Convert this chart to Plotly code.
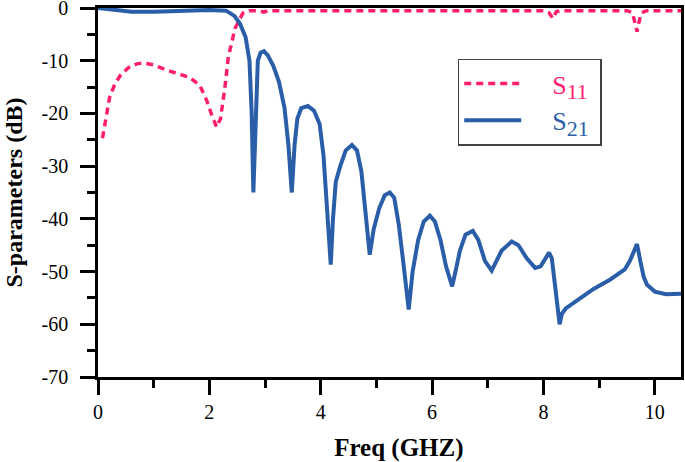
import plotly.graph_objects as go

# S21 (solid blue)
s21_freq = [0.0, 0.3, 0.6, 1.0, 1.5, 2.0, 2.3, 2.45, 2.55, 2.65, 2.72, 2.76, 2.79, 2.83, 2.87, 2.92, 2.98,
            3.05, 3.15, 3.25, 3.35, 3.42, 3.48, 3.53, 3.58, 3.65, 3.77, 3.88, 3.98, 4.05, 4.12, 4.18,
            4.22, 4.27, 4.35, 4.45, 4.56, 4.65, 4.73, 4.8, 4.88, 4.95, 5.05, 5.15, 5.24, 5.32, 5.4,
            5.48, 5.58, 5.65, 5.75, 5.85, 5.96, 6.05, 6.15, 6.25, 6.36, 6.42, 6.5, 6.6, 6.73, 6.83,
            6.95, 7.07, 7.15, 7.25, 7.43, 7.55, 7.7, 7.85, 7.95, 8.05, 8.1, 8.15, 8.2, 8.25, 8.29,
            8.33, 8.4, 8.6, 8.9, 9.2, 9.46, 9.55, 9.68, 9.74, 9.8, 9.86, 10.0, 10.2, 10.47]
s21_db = [0.0, -0.4, -0.7, -0.7, -0.5, -0.4, -0.5, -1.5, -3, -5.5, -10, -20, -35, -20, -10, -8.5, -8.2,
          -9, -11, -14, -19, -26, -35, -26, -21, -19, -18.6, -19.5, -22, -28, -38, -48.7,
          -40, -33, -30, -27, -26, -27, -31, -38, -46.8, -42, -38, -35.5, -35, -36, -41,
          -48, -57.2, -50, -44, -40.5, -39.4, -40.5, -44, -49, -52.8, -50, -46, -43, -42.3, -44,
          -48, -49.8, -48, -46, -44.3, -45, -47.5, -49.3, -49, -47, -46.4, -47.5, -52, -58, -60,
          -58, -57, -55.5, -53.3, -51.5, -49.6, -48, -44.8, -48, -51, -52.5, -53.8, -54.3, -54.2]

# S11 (dashed pink)
s11_freq = [0.08, 0.15, 0.21, 0.3, 0.4, 0.55, 0.7, 0.81, 1.0, 1.24, 1.45, 1.65, 1.83, 1.95, 2.05, 2.13,
            2.2, 2.28, 2.34, 2.46, 2.6, 2.73, 2.9, 2.98, 3.05, 4.0, 5.0, 6.0, 7.0, 8.0, 8.1, 8.17,
            8.23, 8.3, 9.5, 9.6, 9.68, 9.75, 9.85, 10.47]
s11_db = [-24.7, -20, -16.9, -14.5, -12.8, -11.3, -10.6, -10.4, -10.8, -11.8, -12.5, -13.2, -14.7, -17.5,
          -20.5, -22.6, -21, -15, -9.3, -3.9, -1, -0.5, -0.5, -0.8, -0.5, -0.5, -0.5, -0.5, -0.5, -0.5,
          -0.9, -2, -0.7, -0.5, -0.5, -0.9, -4.5, -1, -0.5, -0.5]

x_ticks = [0, 2, 4, 6, 8, 10]
y_ticks = [0, -10, -20, -30, -40, -50, -60, -70]

PINK = "#ff1f6e"
BLUE = "#2b5ea8"
FONT = "Liberation Serif"
PAD = "&nbsp;" * 4


def legend_label(color, sub):
    return (f"{PAD}<span style='color:{color}'>S<sub><span style='font-size:22px'>{sub}</span></sub></span>"
            "&nbsp;")


fig = go.Figure()
fig.add_trace(go.Scatter(x=s11_freq, y=s11_db, mode="lines",
                         name=legend_label(PINK, "11"),
                         line=dict(color=PINK, width=3.5, dash="7px,5px")))
fig.add_trace(go.Scatter(x=s21_freq, y=s21_db, mode="lines",
                         name=legend_label(BLUE, "21"),
                         line=dict(color=BLUE, width=4)))

axis_common = dict(
    ticks="outside", ticklen=15, tickwidth=2.5, tickcolor="black",
    showline=True, linecolor="black", linewidth=2.5, mirror=True,
    showgrid=False, zeroline=False, automargin=False,
    tickfont=dict(family=FONT, size=20, color="black"),
    ticklabeloverflow="allow",
)

fig.update_layout(
    width=685, height=462,
    margin=dict(l=98, r=4, t=8, b=85),
    paper_bgcolor="white", plot_bgcolor="white",
    font=dict(family=FONT, size=20, color="black"),
    showlegend=True,
    legend=dict(x=0.617, y=0.863, xanchor="left", yanchor="top",
                bordercolor="#444", borderwidth=1.5, bgcolor="white",
                itemwidth=57,
                font=dict(family=FONT, size=26), tracegroupgap=0),
    xaxis=dict(range=[0, 10.47], tickvals=x_ticks, ticktext=[str(v) for v in x_ticks],
               minor=dict(tickvals=[1, 3, 5, 7, 9], ticks="outside", ticklen=8, tickwidth=2.5, tickcolor="black"),
               title=dict(text="&nbsp;&nbsp;&nbsp;<b>Freq (GHZ)</b>", font=dict(family=FONT, size=25), standoff=17),
               **axis_common),
    yaxis=dict(range=[-70, 0], tickvals=y_ticks, ticktext=[str(v) for v in y_ticks],
               minor=dict(tickvals=[-5, -15, -25, -35, -45, -55, -65], ticks="outside", ticklen=8,
                          tickwidth=2.5, tickcolor="black"),
               ticklabelstandoff=8,
               title=dict(text="<b>S-parameters (dB)</b>", font=dict(family=FONT, size=24), standoff=13),
               **axis_common),
)

fig.write_html("out.html", post_script="document.body.style.margin='0';",
               config={"displayModeBar": False})
